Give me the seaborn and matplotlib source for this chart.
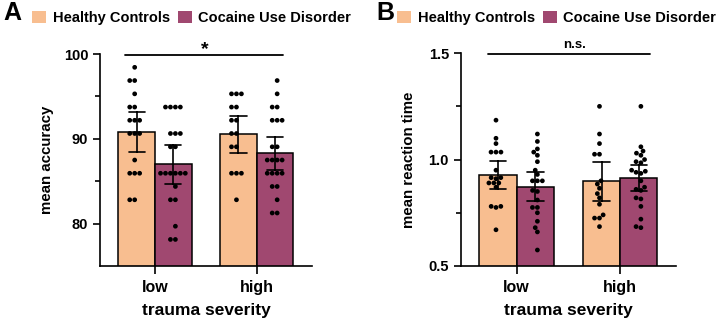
#%%

import pandas as pd
import numpy as np
import matplotlib.pyplot as plt
import matplotlib.ticker as ticker
from matplotlib.patches import Patch
import seaborn as sns

#%%

# dados (pontos individuais por grupo)
groups = ['Healthy Controls', 'Cocaine Use Disorder']
severity = ['low', 'high']

acc_hc_low = [98.44, 96.88, 96.88, 95.31, 93.75, 93.75, 92.19, 92.19, 92.19,
              90.63, 90.63, 90.63, 87.5, 85.94, 85.94, 85.94, 82.81, 82.81]
acc_cud_low = [93.75, 93.75, 93.75, 93.75, 90.63, 90.63, 90.63, 89.06, 89.06,
               85.94, 85.94, 85.94, 85.94, 85.94, 85.94, 84.38, 82.81, 82.81,
               79.69, 78.13, 78.13]
acc_hc_high = [95.31, 95.31, 95.31, 93.75, 93.75, 92.19, 92.19, 90.63, 90.63,
               89.06, 89.06, 85.94, 85.94, 85.94, 82.81]
acc_cud_high = [96.88, 95.31, 93.75, 93.75, 92.19, 92.19, 92.19, 89.06, 89.06,
                87.5, 87.5, 87.5, 87.5, 85.94, 85.94, 85.94, 85.94, 84.38,
                84.38, 82.81, 81.25, 81.25]

rt_hc_low = [1.185, 1.10, 1.075, 1.035, 1.035, 1.035, 0.95, 0.91, 0.915,
             0.915, 0.89, 0.89, 0.89, 0.87, 0.78, 0.78, 0.775, 0.67]
rt_cud_low = [1.12, 1.085, 1.05, 1.035, 1.02, 0.99, 0.95, 0.93, 0.90, 0.90,
              0.90, 0.855, 0.85, 0.81, 0.775, 0.775, 0.75, 0.71, 0.68, 0.66,
              0.575]
rt_hc_high = [1.25, 1.12, 1.075, 1.025, 1.025, 0.90, 0.885, 0.865, 0.84, 0.82,
              0.79, 0.74, 0.725, 0.725, 0.685]
rt_cud_high = [1.25, 1.06, 1.04, 1.03, 1.02, 1.0, 0.99, 0.985, 0.95, 0.945,
               0.94, 0.935, 0.90, 0.87, 0.86, 0.855, 0.82, 0.815, 0.78, 0.72,
               0.685, 0.68]

#%%

def to_long(hc_low, cud_low, hc_high, cud_high, col):
    parts = []
    for vals, g, s in [(hc_low, groups[0], 'low'), (cud_low, groups[1], 'low'),
                       (hc_high, groups[0], 'high'), (cud_high, groups[1], 'high')]:
        parts.append(pd.DataFrame({col: vals, 'grupo': g, 'trauma': s}))
    return pd.concat(parts, ignore_index=True)

df_acc = to_long(acc_hc_low, acc_cud_low, acc_hc_high, acc_cud_high, 'acc')
df_rt = to_long(rt_hc_low, rt_cud_low, rt_hc_high, rt_cud_high, 'rt')

#%%

sns.set_style('ticks', {'axes.edgecolor': 'black', 'text.color': 'black',
                        'axes.labelcolor': 'black', 'xtick.color': 'black',
                        'ytick.color': 'black'})
plt.rcParams['font.family'] = ['Liberation Sans', 'DejaVu Sans']

cores = {'Healthy Controls': '#F8BE90', 'Cocaine Use Disorder': '#A04870'}

fig = plt.figure(figsize=(7.2, 3.22), dpi=100)
axA = fig.add_axes([0.139, 0.174, 0.294, 0.658])
axB = fig.add_axes([0.640, 0.174, 0.299, 0.661])


def painel(ax, df, col, ylab, yticks, ylabels, minor, ylim, lpad):
    sns.barplot(data=df, x='trauma', y=col, hue='grupo', order=severity,
                hue_order=groups, palette=cores, width=0.72, saturation=1,
                errorbar=('se', 2.1), capsize=0.32, edgecolor='black',
                linewidth=1.1, err_kws={'color': 'black', 'linewidth': 1.2},
                legend=False, ax=ax)
    sns.swarmplot(data=df, x='trauma', y=col, hue='grupo', order=severity,
                  hue_order=groups, palette=['black', 'black'], dodge=True,
                  size=3.4, legend=False, ax=ax, zorder=5)
    sns.despine(ax=ax)
    for s in ['left', 'bottom']:
        ax.spines[s].set_linewidth(1.2)
    ax.set_xlim(-0.54, 1.54)
    ax.set_ylim(*ylim)
    ax.set_yticks(yticks, labels=ylabels, fontweight='bold', fontsize=10.5)
    ax.yaxis.set_minor_locator(ticker.FixedLocator(minor))
    ax.set_xticks([0, 1], labels=severity, fontweight='bold', fontsize=11.5)
    ax.tick_params(axis='y', which='major', length=5, width=1.2)
    ax.tick_params(axis='y', which='minor', length=3.5, width=1.2)
    ax.tick_params(axis='x', length=6, width=1.2, pad=4)
    ax.set_xlabel('trauma severity', fontsize=12.5, fontweight='bold', labelpad=6)
    ax.set_ylabel(ylab, fontsize=10.8, fontweight='bold', labelpad=lpad)


painel(axA, df_acc, 'acc', 'mean accuracy', [80, 90, 100], ['80', '90', '100'],
       [85, 95], (75, 100), 7)
axA.plot([-0.3, 1.26], [99.95, 99.95], color='black', lw=1.3, clip_on=False)
axA.text(0.49, 99.95, '*', ha='center', va='baseline', fontsize=14,
         fontweight='bold')

painel(axB, df_rt, 'rt', 'mean reaction time', [0.5, 1.0, 1.5],
       ['0.5', '1.0', '1.5'], [0.75, 1.25], (0.5, 1.5), 9)
axB.plot([-0.28, 1.29], [1.497, 1.497], color='black', lw=1.3, clip_on=False)
axB.text(0.56, 1.51, 'n.s.', ha='center', va='bottom', fontsize=9.5,
         fontweight='bold')

# legendas e letras dos paineis
handles = [Patch(facecolor=cores[g], edgecolor='none') for g in groups]
for letra, xl, xleg in [('A', 3, 25), ('B', 376, 390)]:
    fig.text(xl / 720, 1 - 13 / 322, letra, fontsize=18, fontweight='bold',
             va='center', ha='left')
    fig.legend(handles, groups, loc='center left',
               bbox_to_anchor=(xleg / 720, 1 - 18 / 322), ncol=2,
               frameon=False, borderpad=0, handlelength=0.95,
               handleheight=0.95, handletextpad=0.45, columnspacing=0.55,
               prop={'weight': 'bold', 'size': 10.5})

plt.savefig('out.png', dpi=100)
